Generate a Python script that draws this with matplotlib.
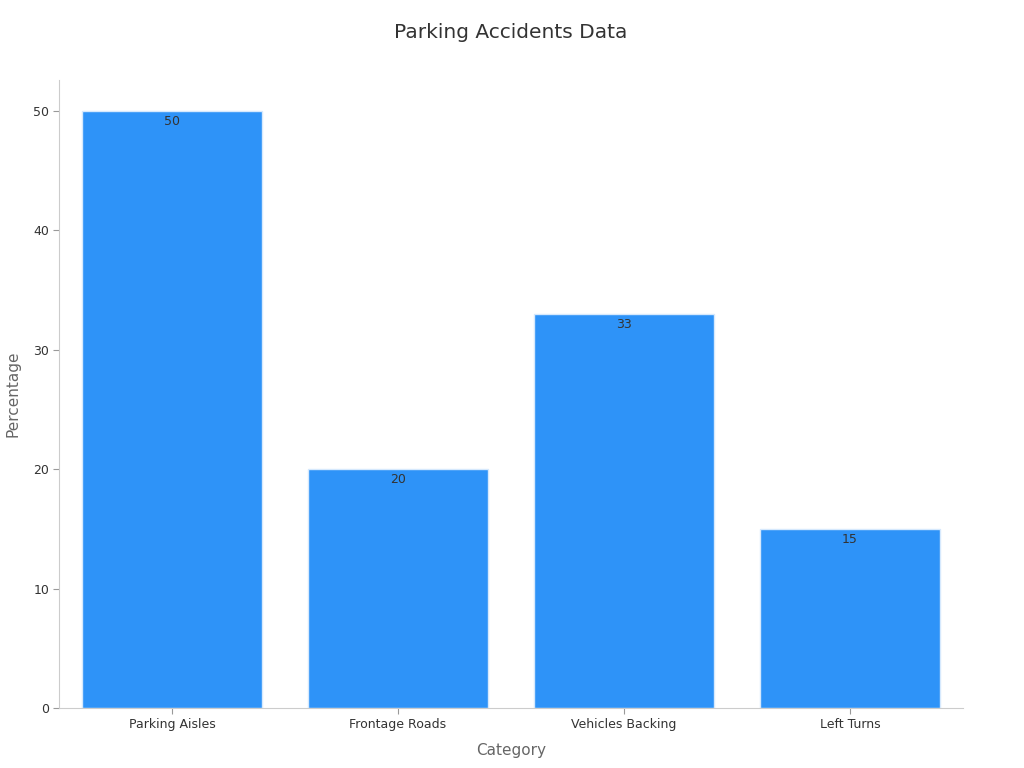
import matplotlib.pyplot as plt

# data
categories = ['Parking Aisles', 'Frontage Roads', 'Vehicles Backing', 'Left Turns']
percentages = [50, 20, 33, 15]

fig = plt.figure(figsize=(10.24, 7.68), dpi=100)
ax = fig.add_axes([0.0576, 0.078, 0.8828, 0.818])

bars = ax.bar(categories, percentages, width=0.8, color='#2e93f8',
              edgecolor='#d6e9fd', linewidth=1)

# value labels just under the top of each bar
for b, v in zip(bars, percentages):
    ax.annotate(str(v), (b.get_x() + b.get_width() / 2, b.get_height()),
                xytext=(0, -3), textcoords='offset points',
                ha='center', va='top', fontsize=9, color='#333333')

ax.set_xlim(-0.5, 3.5)
ax.set_ylim(0, 52.6)
ax.set_yticks([0, 10, 20, 30, 40, 50])

ax.set_title('Parking Accidents Data', fontsize=14.5, color='#333333', pad=30)
ax.set_xlabel('Category', fontsize=11, color='#666666', labelpad=9)
ax.set_ylabel('Percentage', fontsize=11, color='#666666', labelpad=9)

for s in ['top', 'right']:
    ax.spines[s].set_visible(False)
for s in ['left', 'bottom']:
    ax.spines[s].set_color('#cccccc')

ax.tick_params(axis='both', labelsize=9, colors='#333333', length=4, pad=3)
ax.tick_params(axis='both', color='#999999')

fig.savefig('out.png', dpi=100)
